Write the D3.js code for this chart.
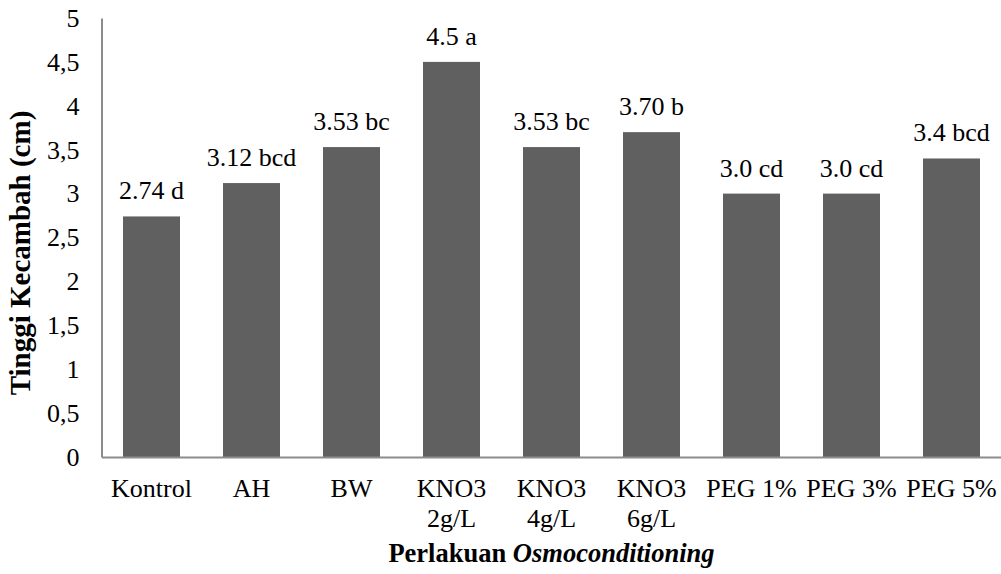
<!DOCTYPE html>
<html>
<head>
<meta charset="utf-8">
<script src="https://cdn.jsdelivr.net/npm/d3@7"></script>
</head>
<body style="margin:0;background:#fff">
<svg id="chart" width="1001" height="574"></svg>
<script>
const categories = ["Kontrol","AH","BW","KNO3\n2g/L","KNO3\n4g/L","KNO3\n6g/L","PEG 1%","PEG 3%","PEG 5%"];
const values = [2.74, 3.12, 3.53, 4.5, 3.53, 3.70, 3.0, 3.0, 3.4];
const valueLabels = ["2.74 d","3.12 bcd","3.53 bc","4.5 a","3.53 bc","3.70 b","3.0 cd","3.0 cd","3.4 bcd"];
const yTicks = [0,0.5,1,1.5,2,2.5,3,3.5,4,4.5,5];
const yTitle = "Tinggi Kecambah (cm)";
const xTitleA = "Perlakuan ";
const xTitleB = "Osmoconditioning";

const FONT = "Liberation Serif";
const svg = d3.select("#chart");
const x = d3.scaleBand().domain(categories).range([101.5, 1001.5]).paddingInner(0.43).paddingOuter(0.215);
const y = d3.scaleLinear().domain([0, 5]).range([457, 18]);

// bars
svg.append("g").selectAll("rect").data(values).join("rect")
  .attr("x", (d,i) => x(categories[i]))
  .attr("y", d => y(d))
  .attr("width", x.bandwidth())
  .attr("height", d => y(0) - y(d))
  .attr("fill", "#606060");

// value labels
svg.append("g").selectAll("text").data(values).join("text")
  .attr("x", (d,i) => x(categories[i]) + x.bandwidth()/2)
  .attr("y", d => y(d) - 17)
  .attr("text-anchor", "middle")
  .attr("font-family", FONT)
  .attr("font-size", 26)
  .attr("fill", "#000")
  .text((d,i) => valueLabels[i]);

// y axis
const yAxis = d3.axisLeft(y).tickValues(yTicks).tickSize(0).tickPadding(22)
  .tickFormat(d => d3.format("")(d).replace(".", ","));
const gy = svg.append("g").attr("transform", "translate(101.5,0)").call(yAxis)
  .attr("font-family", FONT).attr("font-size", 26);
gy.select(".domain").attr("stroke", "#8c8c8c").attr("stroke-width", 2);
gy.selectAll("text").attr("font-size", 26).attr("font-family", FONT).attr("fill", "#000");

// x axis
const xAxis = d3.axisBottom(x).tickSize(0).tickFormat("");
const gx = svg.append("g").attr("transform", "translate(0,457)").call(xAxis);
gx.select(".domain").attr("stroke", "#8c8c8c").attr("stroke-width", 2);

// category labels
const cl = svg.append("g").selectAll("text").data(categories).join("text")
  .attr("x", d => x(d) + x.bandwidth()/2)
  .attr("y", 497)
  .attr("text-anchor", "middle")
  .attr("font-family", FONT)
  .attr("font-size", 26)
  .attr("fill", "#000");
cl.each(function(d){
  const t = d3.select(this);
  d.split("\n").forEach((line, j) => {
    t.append("tspan").attr("x", x(d) + x.bandwidth()/2).attr("dy", j === 0 ? 0 : 30).text(line);
  });
});

// y title
svg.append("text")
  .attr("transform", "translate(30,253) rotate(-90)")
  .attr("text-anchor", "middle")
  .attr("font-family", FONT)
  .attr("font-size", 29)
  .attr("font-weight", "bold")
  .text(yTitle);

// x title
const xt = svg.append("text")
  .attr("x", (101.5 + 1001.5)/2)
  .attr("y", 562)
  .attr("text-anchor", "middle")
  .attr("font-family", FONT)
  .attr("font-size", 26.5)
  .attr("font-weight", "bold");
xt.append("tspan").text(xTitleA);
xt.append("tspan").attr("font-style", "italic").text(xTitleB);
</script>
</body>
</html>
